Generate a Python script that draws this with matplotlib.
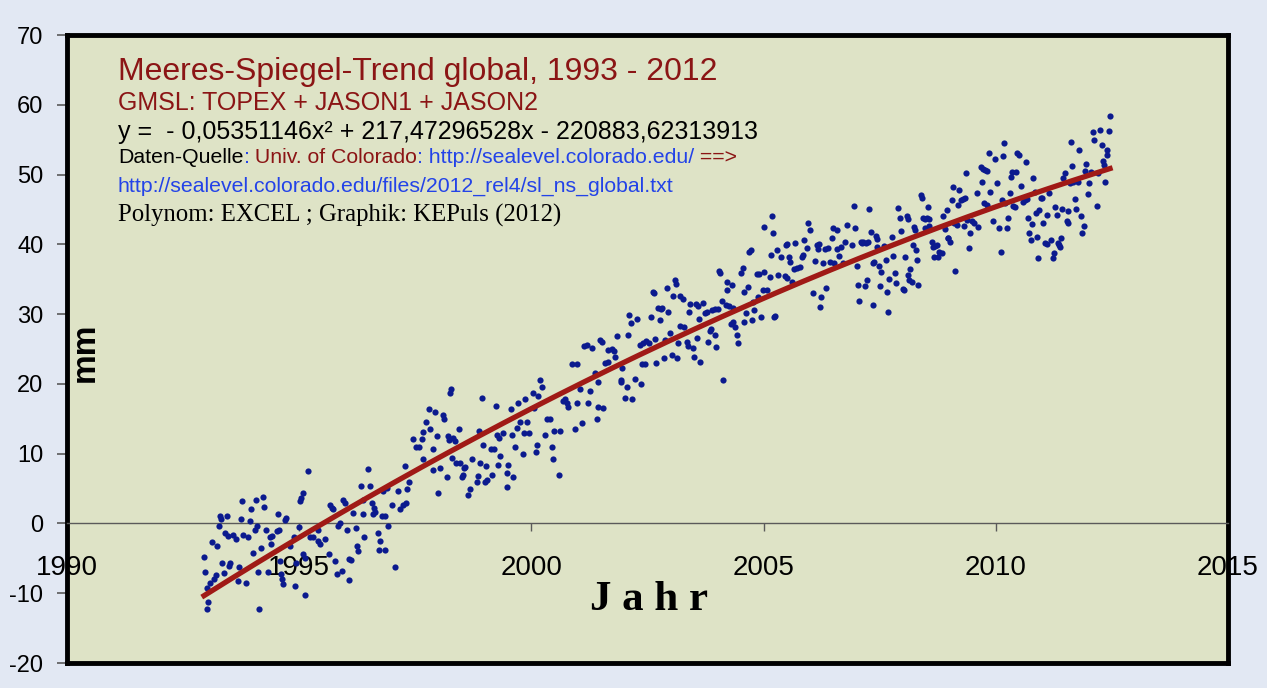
import numpy as np
import matplotlib.pyplot as plt

plt.rcParams["font.family"] = "Liberation Sans"
plt.rcParams["axes.unicode_minus"] = False

# -----------------------------
# Data: GMSL (mm), (decimal year, mm)
# -----------------------------
gmsl_1993_1996 = [
    (1992.95, -4.8), (1992.97, -6.9), (1993.01, -9.2), (1993.02, -12.2), (1993.04, -11.3),
    (1993.08, -8.6), (1993.12, -2.6), (1993.17, -7.9), (1993.21, -7.4), (1993.23, -3.2),
    (1993.27, -0.4), (1993.29, 1.0), (1993.32, 0.6), (1993.34, -5.6), (1993.38, -7.1),
    (1993.40, -1.4), (1993.45, 1.0), (1993.47, -1.8), (1993.49, -6.1), (1993.51, -5.6),
    (1993.57, -1.6), (1993.64, -2.3), (1993.68, -8.3), (1993.70, -6.2), (1993.75, 0.6),
    (1993.77, 3.2), (1993.79, -1.7), (1993.85, -8.6), (1993.90, -1.9), (1993.94, 0.3),
    (1993.96, 2.0), (1994.01, -4.3), (1994.05, -0.9), (1994.07, 3.4), (1994.09, -0.4),
    (1994.11, -7.0), (1994.13, -12.2), (1994.18, -3.5), (1994.22, 3.8), (1994.24, 2.4),
    (1994.29, -0.9), (1994.33, -6.9), (1994.37, -1.9), (1994.39, -3.0), (1994.41, -1.8),
    (1994.52, -1.1), (1994.54, 1.3), (1994.57, -1.0), (1994.59, -5.4), (1994.60, -7.3),
    (1994.63, -8.0), (1994.65, -8.7), (1994.69, 0.5), (1994.72, 0.8), (1994.80, -3.2),
    (1994.89, -2.0), (1994.91, -9.0), (1994.93, -5.6), (1995.00, -0.5), (1995.02, 3.2),
    (1995.04, 3.7), (1995.08, 4.4), (1995.08, -4.4), (1995.12, -10.3), (1995.12, -4.9),
    (1995.19, 7.5), (1995.23, -1.9), (1995.30, -2.0), (1995.40, -2.5), (1995.40, -0.9),
    (1995.45, -3.0), (1995.56, -2.3), (1995.64, -4.4), (1995.66, 2.7), (1995.71, 2.2),
    (1995.73, 2.0), (1995.77, -5.4), (1995.81, -7.3), (1995.84, -0.4), (1995.88, 0.1),
    (1995.92, -6.8), (1995.94, 3.4), (1995.99, 3.0), (1996.03, -0.9), (1996.07, -5.1),
    (1996.07, -8.1), (1996.12, -5.2), (1996.16, 1.5), (1996.22, -0.6), (1996.24, -3.2),
    (1996.27, -4.0), (1996.33, 5.3), (1996.37, 3.4), (1996.37, 1.3), (1996.40, -2.0),
    (1996.48, 7.8), (1996.52, 5.4), (1996.57, 3.0), (1996.59, 1.3), (1996.61, 2.2),
    (1996.63, 1.7), (1996.70, -1.3), (1996.72, -3.8), (1996.74, -2.5), (1996.78, 1.1),
    (1996.80, 4.6), (1996.85, 1.0), (1996.85, -3.8), (1996.89, 5.1), (1996.91, -0.4),
]

gmsl_1997_2001 = [
    (1997.00, 2.6), (1997.06, -6.2), (1997.13, 4.6), (1997.17, 2.0), (1997.24, 2.7),
    (1997.28, 8.3), (1997.30, 3.0), (1997.32, 4.9), (1997.36, 6.0), (1997.45, 12.1),
    (1997.52, 11.0), (1997.58, 11.0), (1997.64, 12.1), (1997.66, 9.2), (1997.67, 13.1),
    (1997.73, 14.6), (1997.79, 16.4), (1997.82, 13.6), (1997.88, 10.6), (1997.89, 7.6),
    (1997.92, 16.0), (1997.97, 12.6), (1997.99, 4.4), (1998.03, 8.0), (1998.10, 15.5),
    (1998.12, 15.0), (1998.18, 6.7), (1998.20, 12.6), (1998.22, 12.0), (1998.25, 18.7),
    (1998.27, 19.2), (1998.28, 9.4), (1998.31, 12.3), (1998.35, 11.8), (1998.38, 8.7),
    (1998.44, 13.6), (1998.46, 8.7), (1998.51, 6.6), (1998.53, 7.0), (1998.54, 7.9),
    (1998.57, 8.1), (1998.63, 4.1), (1998.68, 4.9), (1998.72, 9.2), (1998.83, 6.0),
    (1998.85, 6.8), (1998.87, 13.3), (1998.89, 8.7), (1998.94, 18.0), (1998.96, 11.2),
    (1999.00, 5.9), (1999.02, 8.2), (1999.04, 6.2), (1999.13, 10.7), (1999.15, 7.0),
    (1999.19, 10.7), (1999.24, 16.8), (1999.26, 12.7), (1999.28, 8.4), (1999.30, 12.2),
    (1999.32, 9.6), (1999.39, 12.9), (1999.47, 7.3), (1999.48, 5.2), (1999.50, 8.4),
    (1999.56, 16.4), (1999.58, 12.7), (1999.60, 6.7), (1999.65, 10.9), (1999.69, 13.7),
    (1999.71, 17.3), (1999.75, 14.6), (1999.82, 10.0), (1999.84, 13.0), (1999.86, 17.9),
    (1999.91, 14.6), (1999.95, 12.9), (2000.03, 18.7), (2000.06, 16.6), (2000.10, 10.2),
    (2000.12, 11.3), (2000.14, 18.3), (2000.19, 20.6), (2000.23, 19.5), (2000.29, 12.7),
    (2000.34, 14.9), (2000.40, 14.9), (2000.44, 10.9), (2000.47, 9.2), (2000.49, 13.3),
    (2000.59, 6.9), (2000.62, 13.2), (2000.68, 17.5), (2000.72, 17.9), (2000.77, 17.3),
    (2000.79, 16.7), (2000.87, 22.9), (2000.94, 13.6), (2000.98, 22.9), (2000.99, 17.3),
    (2001.05, 19.2), (2001.09, 14.4), (2001.13, 25.4), (2001.20, 25.6), (2001.22, 17.2),
    (2001.26, 19.0), (2001.30, 25.2), (2001.37, 21.6), (2001.41, 15.0), (2001.43, 20.3),
    (2001.44, 16.7),
]

gmsl_2001_2006 = [
    (2001.48, 26.3), (2001.52, 26.0), (2001.54, 16.6), (2001.58, 23.0), (2001.65, 23.2),
    (2001.66, 24.9), (2001.73, 25.0), (2001.78, 24.7), (2001.80, 23.9), (2001.84, 26.8),
    (2001.93, 20.2), (2001.94, 20.6), (2001.95, 22.3), (2002.02, 18.0), (2002.05, 19.5),
    (2002.08, 27.0), (2002.10, 29.9), (2002.14, 28.7), (2002.17, 17.9), (2002.23, 20.7),
    (2002.27, 29.3), (2002.34, 25.6), (2002.36, 20.0), (2002.38, 22.9), (2002.40, 25.9),
    (2002.45, 22.8), (2002.47, 26.1), (2002.53, 25.9), (2002.58, 29.6), (2002.62, 33.2),
    (2002.64, 33.0), (2002.66, 26.5), (2002.68, 23.0), (2002.73, 30.9), (2002.77, 29.2),
    (2002.79, 30.7), (2002.81, 30.9), (2002.86, 23.7), (2002.88, 26.3), (2002.92, 33.8),
    (2002.94, 30.3), (2002.98, 27.3), (2003.03, 24.2), (2003.05, 32.6), (2003.09, 34.9),
    (2003.11, 34.3), (2003.14, 23.7), (2003.16, 25.9), (2003.20, 32.6), (2003.21, 28.3),
    (2003.26, 32.1), (2003.28, 28.1), (2003.35, 26.0), (2003.37, 25.5), (2003.39, 30.3),
    (2003.42, 31.5), (2003.48, 25.2), (2003.50, 23.9), (2003.54, 31.5), (2003.57, 26.6),
    (2003.59, 31.1), (2003.61, 29.3), (2003.63, 23.2), (2003.70, 31.6), (2003.74, 30.2),
    (2003.78, 30.3), (2003.80, 26.0), (2003.85, 27.6), (2003.87, 27.8), (2003.89, 30.6),
    (2003.95, 27.0), (2003.96, 30.7), (2003.98, 25.3), (2004.02, 30.8), (2004.04, 36.2),
    (2004.06, 35.9), (2004.10, 31.9), (2004.13, 20.5), (2004.19, 31.3), (2004.21, 34.6),
    (2004.22, 33.5), (2004.26, 31.2), (2004.30, 28.6), (2004.32, 34.2), (2004.34, 28.8),
    (2004.35, 30.9), (2004.38, 28.1), (2004.43, 27.0), (2004.45, 25.9), (2004.51, 35.9),
    (2004.56, 36.6), (2004.57, 33.2), (2004.58, 28.9), (2004.62, 30.2), (2004.66, 33.9),
    (2004.69, 38.9), (2004.73, 39.2), (2004.75, 29.2), (2004.77, 31.8), (2004.79, 30.6),
    (2004.86, 35.8), (2004.88, 32.5), (2004.90, 35.8), (2004.94, 29.6), (2004.99, 33.5),
    (2005.00, 42.5), (2005.01, 36.0), (2005.07, 33.5), (2005.14, 35.3), (2005.16, 38.5),
    (2005.18, 44.1), (2005.20, 41.6), (2005.22, 29.6), (2005.25, 29.8), (2005.29, 39.2),
    (2005.31, 35.6), (2005.37, 38.2), (2005.46, 35.5), (2005.48, 39.9), (2005.50, 40.0),
    (2005.51, 35.2), (2005.55, 38.2), (2005.57, 37.4), (2005.61, 34.6), (2005.65, 36.5),
    (2005.68, 40.2), (2005.72, 36.6), (2005.78, 36.7), (2005.83, 38.2), (2005.85, 38.5),
    (2005.87, 40.6), (2005.93, 39.5), (2005.96, 43.1), (2006.00, 42.0), (2006.06, 33.0),
    (2006.11, 37.6), (2006.15, 39.9), (2006.17, 39.3), (2006.19, 40.0), (2006.21, 31.0),
    (2006.24, 32.5), (2006.28, 37.3), (2006.32, 39.3), (2006.34, 33.8), (2006.39, 39.5),
    (2006.43, 37.5), (2006.47, 40.9), (2006.49, 42.3), (2006.52, 37.3), (2006.57, 39.3),
    (2006.58, 42.0), (2006.62, 38.3), (2006.67, 39.6), (2006.72, 37.3), (2006.75, 40.3),
    (2006.80, 42.8),
]

gmsl_2007_2011 = [
    (2006.90, 39.9), (2006.95, 45.5), (2006.97, 42.3), (2007.01, 36.9), (2007.03, 34.2),
    (2007.05, 31.9), (2007.10, 40.3), (2007.12, 40.2), (2007.14, 40.3), (2007.18, 34.0),
    (2007.20, 40.2), (2007.23, 34.9), (2007.25, 40.4), (2007.27, 45.1), (2007.31, 41.8),
    (2007.35, 31.3), (2007.36, 37.3), (2007.38, 37.4), (2007.42, 41.2), (2007.44, 40.8),
    (2007.45, 39.6), (2007.48, 36.9), (2007.51, 34.0), (2007.53, 36.1), (2007.59, 39.8),
    (2007.64, 37.8), (2007.66, 33.2), (2007.68, 30.3), (2007.70, 35.0), (2007.76, 41.1),
    (2007.79, 38.3), (2007.83, 35.9), (2007.85, 34.5), (2007.89, 45.2), (2007.94, 43.8),
    (2007.96, 41.9), (2008.00, 33.6), (2008.02, 33.5), (2008.04, 38.2), (2008.09, 44.0),
    (2008.10, 35.6), (2008.11, 43.6), (2008.13, 34.9), (2008.15, 36.5), (2008.20, 34.6),
    (2008.22, 39.9), (2008.24, 42.5), (2008.26, 42.0), (2008.28, 39.2), (2008.30, 37.8),
    (2008.32, 34.2), (2008.39, 47.0), (2008.41, 46.6), (2008.43, 43.8), (2008.47, 42.3),
    (2008.48, 43.6), (2008.52, 43.8), (2008.54, 45.4), (2008.56, 43.6), (2008.57, 42.6),
    (2008.63, 40.3), (2008.65, 39.6), (2008.66, 38.2), (2008.69, 39.8), (2008.73, 39.9),
    (2008.76, 38.2), (2008.78, 38.9), (2008.84, 38.8), (2008.86, 44.0), (2008.91, 42.2),
    (2008.95, 44.9), (2008.96, 40.9), (2008.97, 40.9), (2009.01, 40.3), (2009.06, 46.4),
    (2009.08, 48.2), (2009.10, 43.0), (2009.12, 36.2), (2009.16, 42.8), (2009.19, 45.6),
    (2009.21, 47.8), (2009.25, 46.4), (2009.29, 46.5), (2009.32, 42.6), (2009.34, 46.6),
    (2009.36, 50.2), (2009.38, 43.5), (2009.42, 39.5), (2009.44, 41.6), (2009.49, 43.3),
    (2009.53, 43.0), (2009.60, 47.4), (2009.62, 42.5), (2009.68, 51.1), (2009.70, 48.9),
    (2009.72, 50.8), (2009.75, 45.9), (2009.77, 50.7), (2009.81, 45.7), (2009.82, 50.5),
    (2009.85, 53.1), (2009.88, 47.5), (2009.94, 43.3), (2009.98, 52.2), (2010.03, 48.8),
    (2010.07, 42.3), (2010.11, 38.9), (2010.13, 46.4), (2010.16, 52.6), (2010.18, 54.5),
    (2010.20, 45.9), (2010.24, 42.3), (2010.26, 43.8), (2010.31, 47.4), (2010.33, 49.7),
    (2010.35, 50.4), (2010.37, 45.5), (2010.41, 45.3), (2010.44, 50.4), (2010.46, 53.1),
    (2010.50, 52.8), (2010.54, 48.4), (2010.59, 46.0), (2010.63, 46.4), (2010.65, 51.8),
    (2010.67, 46.5), (2010.69, 43.8), (2010.71, 41.6), (2010.76, 40.6), (2010.78, 42.9),
    (2010.80, 49.5), (2010.84, 47.5), (2010.87, 44.5), (2010.89, 41.1), (2010.91, 38.0),
    (2010.93, 44.9), (2010.97, 46.6), (2010.99, 46.6), (2011.02, 43.1), (2011.06, 40.2),
    (2011.10, 40.0), (2011.11, 44.2), (2011.15, 47.3), (2011.19, 40.6), (2011.23, 38.0),
    (2011.25, 38.8), (2011.27, 45.4), (2011.32, 44.2), (2011.34, 40.2),
]

gmsl_2011_2012 = [
    (2011.36, 39.9), (2011.38, 39.6), (2011.40, 40.9), (2011.43, 45.1), (2011.45, 49.5),
    (2011.49, 50.2), (2011.53, 43.3), (2011.55, 43.1), (2011.56, 44.8), (2011.60, 48.8),
    (2011.62, 54.6), (2011.64, 51.2), (2011.66, 48.9), (2011.71, 46.5), (2011.73, 45.0),
    (2011.77, 49.0), (2011.79, 53.5), (2011.84, 44.0), (2011.86, 41.6), (2011.90, 42.6),
    (2011.92, 50.5), (2011.94, 51.5), (2011.99, 47.2), (2012.00, 48.8), (2012.05, 50.3),
    (2012.09, 56.1), (2012.11, 55.0), (2012.18, 45.5), (2012.20, 50.2), (2012.24, 56.4),
    (2012.29, 54.2), (2012.31, 52.0), (2012.32, 51.4), (2012.35, 48.9), (2012.39, 53.5),
    (2012.40, 52.8), (2012.44, 56.2), (2012.46, 58.4),
]

# Excel polynomial trend as printed on the chart
trend_coef = [-0.05351146, 217.47296528, -220883.62313913]

x_ticks = [1990, 1995, 2000, 2005, 2010, 2015]
y_ticks = [-20, -10, 0, 10, 20, 30, 40, 50, 60, 70]

# -----------------------------
# Colors
# -----------------------------
fig_bg = "#e2e8f3"
plot_bg = "#dee3c6"
dot_blue = "#0b1a8e"
trend_red = "#a01a16"
txt_red = "#8b1515"
link_blue = "#2343e8"

W, H = 1267, 688

pts = np.array(gmsl_1993_1996 + gmsl_1997_2001 + gmsl_2001_2006 +
               gmsl_2007_2011 + gmsl_2011_2012)
years, mm = pts[:, 0], pts[:, 1]

fig = plt.figure(figsize=(W / 100, H / 100), dpi=100, facecolor=fig_bg)
ax = fig.add_axes([67 / W, 1 - 663 / H, (1228 - 67) / W, (663 - 35) / H])
ax.set_facecolor(plot_bg)
ax.set_xlim(x_ticks[0], x_ticks[-1])
ax.set_ylim(y_ticks[0], y_ticks[-1])

ax.scatter(years, mm, s=20, color=dot_blue, linewidths=0, zorder=3)

xt = np.linspace(years.min(), years.max(), 400)
ax.plot(xt, np.polyval(trend_coef, xt), color=trend_red, lw=3.8, zorder=4)

# frame: thick black box, thin grey x-axis through zero
for s in ("left", "top", "right"):
    ax.spines[s].set_linewidth(3.5)
    ax.spines[s].set_color("black")
ax.spines["bottom"].set_position(("data", 0))
ax.spines["bottom"].set_linewidth(1.0)
ax.spines["bottom"].set_color("#5a5a5a")
ax.plot([0, 1], [0, 0], transform=ax.transAxes, color="black", lw=3.5,
        solid_capstyle="projecting", clip_on=False, zorder=5)

ax.set_xticks(x_ticks)
ax.set_yticks(y_ticks)
ax.tick_params(axis="x", direction="out", length=6, width=1, color="#5a5a5a",
               labelsize=20, pad=17)
ax.tick_params(axis="y", direction="out", length=7, width=1.2, color="#5a5a5a",
               labelsize=17, pad=10)

ax.text(0.0155, 0.495, "mm", transform=ax.transAxes, rotation=90,
        fontsize=24, fontweight="bold", ha="center", va="center")
ax.text(0.501, (663 - 610) / 628, "J a h r", transform=ax.transAxes,
        family="Liberation Serif", fontsize=31, fontweight="bold",
        ha="center", va="baseline")

# -----------------------------
# Header texts
# -----------------------------
def ftext(px, py, s, **kw):
    return fig.text(px / W, 1 - py / H, s, va="baseline", ha="left", **kw)

ftext(118, 80, "Meeres-Spiegel-Trend global, 1993 - 2012", fontsize=23, color=txt_red)
ftext(118, 110, "GMSL: TOPEX + JASON1 + JASON2", fontsize=18, color=txt_red)
ftext(118, 139, "y =  - 0,05351146x² + 217,47296528x - 220883,62313913",
      fontsize=18, color="black")

pieces = [
    ("Daten-Quelle", "black"),
    (":", link_blue),
    (" Univ. of Colorado", txt_red),
    (": http://sealevel.colorado.edu/", link_blue),
    (" ==>", txt_red),
]
prev = ftext(118, 163, pieces[0][0], fontsize=15.3, color=pieces[0][1])
for s, c in pieces[1:]:
    prev = ax.annotate(s, xy=(1, 0), xycoords=prev, va="bottom", ha="left",
                       fontsize=15.3, color=c, annotation_clip=False)

ftext(118, 192, "http://sealevel.colorado.edu/files/2012_rel4/sl_ns_global.txt",
      fontsize=15.3, color=link_blue)
ftext(118, 222, "Polynom: EXCEL ; Graphik: KEPuls (2012)",
      family="Liberation Serif", fontsize=17.8, color="black")

fig.savefig("out.png", dpi=100, facecolor=fig_bg)
